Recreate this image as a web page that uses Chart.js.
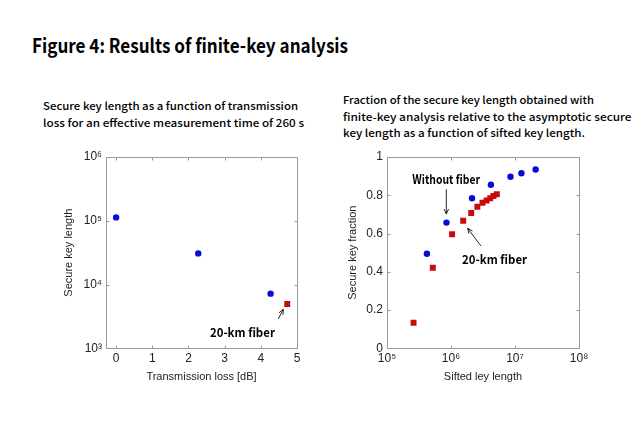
<!DOCTYPE html>
<html><head><meta charset="utf-8">
<script src="https://cdn.jsdelivr.net/npm/chart.js@4.4.1/dist/chart.umd.min.js"></script>
<style>
html,body{margin:0;padding:0;background:#fff;}
#wrap{position:relative;width:640px;height:443px;overflow:hidden;background:#fff}
canvas{position:absolute}
svg{position:absolute;left:0;top:0}
.t{font-family:"Noto Sans CJK JP","Noto Sans",sans-serif;fill:#000}
</style></head><body>
<div id="wrap">
<svg width="640" height="443">
  <text class="t" x="32" y="53.3" font-size="19.5" font-weight="bold" textLength="316" lengthAdjust="spacingAndGlyphs">Figure 4: Results of finite-key analysis</text>
  <text class="t" x="43" y="110" font-size="10.5" font-weight="500" textLength="255" lengthAdjust="spacingAndGlyphs">Secure key length as a function of transmission</text>
  <text class="t" x="43" y="126.7" font-size="10.5" font-weight="500" textLength="261" lengthAdjust="spacingAndGlyphs">loss for an effective measurement time of 260 s</text>
  <text class="t" x="343" y="104" font-size="10.5" font-weight="500" textLength="251" lengthAdjust="spacingAndGlyphs">Fraction of the secure key length obtained with</text>
  <text class="t" x="343" y="120.7" font-size="10.5" font-weight="500" textLength="288.5" lengthAdjust="spacingAndGlyphs">finite-key analysis relative to the asymptotic secure</text>
  <text class="t" x="343" y="137.3" font-size="10.5" font-weight="500" textLength="242" lengthAdjust="spacingAndGlyphs">key length as a function of sifted key length.</text>
</svg>
<canvas id="c1" width="320" height="260" style="left:0;top:140px;width:320px;height:260px"></canvas>
<canvas id="c2" width="320" height="260" style="left:320px;top:140px;width:320px;height:260px"></canvas>
</div>
<script>
// ---- Left panel data ----
const lossNoFiber = [0, 2.27, 4.27];
const keyNoFiber = [1.13e5, 3.08e4, 7.2e3];
const lossFiber = [4.73];
const keyFiber = [4.94e3];
const lossTicks = [0, 1, 2, 3, 4, 5];
const keyTicks = [1e3, 1e4, 1e5, 1e6];
const keyTickLabels = ['10³', '10⁴', '10⁵', '10⁶'];

// ---- Right panel data ----
const siftedNoFiber = [4.2e5, 8.5e5, 2.13e6, 4.2e6, 8.5e6, 1.26e7, 2.1e7];
const fracNoFiber = [0.494, 0.657, 0.784, 0.855, 0.897, 0.915, 0.935];
const siftedFiber = [2.6e5, 5.2e5, 1.04e6, 1.55e6, 2.07e6, 2.58e6, 3.1e6, 3.6e6, 4.1e6, 4.6e6, 5.2e6];
const fracFiber = [0.134, 0.421, 0.596, 0.667, 0.707, 0.74, 0.761, 0.773, 0.784, 0.796, 0.805];
const siftedTicks = [1e5, 1e6, 1e7, 1e8];
const siftedTickLabels = ['10⁵', '10⁶', '10⁷', '10⁸'];
const fracTicks = [0, 0.2, 0.4, 0.6, 0.8, 1];
const fracTickLabels = ['0', '0.2', '0.4', '0.6', '0.8', '1'];

const BLUE = '#0a0ad8';
const RED = '#c80a0a';
const TICK_FONT = {family: '"Liberation Sans", Arial, sans-serif', size: 12};
const TITLE_FONT = {family: '"Liberation Sans", Arial, sans-serif', size: 11};
const TXT = '#222';

const framePlugin = {
  id: 'frame',
  beforeDatasetsDraw(chart) {
    const {ctx, chartArea: a, scales: {x, y}} = chart;
    const L = Math.round(a.left) + 0.5, R = Math.round(a.right) + 0.5;
    const T = Math.round(a.top) + 0.5, B = Math.round(a.bottom) + 0.5;
    ctx.save();
    ctx.strokeStyle = '#9a9a9a';
    ctx.lineWidth = 1;
    ctx.beginPath();
    ctx.rect(L, T, R - L, B - T);
    x.ticks.forEach(t => {
      const px = Math.round(x.getPixelForValue(t.value)) + 0.5;
      ctx.moveTo(px, B); ctx.lineTo(px, B - 3);
      ctx.moveTo(px, T); ctx.lineTo(px, T + 3);
    });
    y.ticks.forEach(t => {
      const py = Math.round(y.getPixelForValue(t.value)) + 0.5;
      ctx.moveTo(L, py); ctx.lineTo(L + 3, py);
      ctx.moveTo(R, py); ctx.lineTo(R - 3, py);
    });
    ctx.stroke();
    ctx.restore();
  }
};

const notesPlugin = {
  id: 'notes',
  afterDatasetsDraw(chart, args, opts) {
    const {ctx, scales: {x, y}} = chart;
    ctx.save();
    (opts.labels || []).forEach(l => {
      ctx.font = 'bold 12.5px "Noto Sans CJK JP", "Noto Sans", sans-serif';
      ctx.fillStyle = '#000';
      ctx.textAlign = 'center';
      ctx.textBaseline = 'alphabetic';
      const m = ctx.measureText(l.text).width;
      const cx = x.getPixelForValue(l.x), by = y.getPixelForValue(l.y);
      ctx.save();
      ctx.translate(cx, by);
      ctx.scale(l.w / m, 1);
      ctx.fillText(l.text, 0, 0);
      ctx.restore();
    });
    (opts.arrows || []).forEach(a => {
      const x1 = x.getPixelForValue(a.x1), y1 = y.getPixelForValue(a.y1);
      const x2 = x.getPixelForValue(a.x2), y2 = y.getPixelForValue(a.y2);
      const ang = Math.atan2(y2 - y1, x2 - x1);
      ctx.strokeStyle = '#111';
      ctx.lineWidth = 0.9;
      ctx.beginPath();
      ctx.moveTo(x1, y1); ctx.lineTo(x2, y2);
      const h = 5.5, s = 0.42;
      ctx.moveTo(x2 - h * Math.cos(ang - s), y2 - h * Math.sin(ang - s));
      ctx.lineTo(x2, y2);
      ctx.lineTo(x2 - h * Math.cos(ang + s), y2 - h * Math.sin(ang + s));
      ctx.stroke();
    });
    ctx.restore();
  }
};

function axis(type, min, max, ticks, labels, titleText, isX, fitSize, pad) {
  return {
    type, min, max,
    afterBuildTicks: s => { s.ticks = ticks.map(v => ({value: v})); },
    afterFit: s => { if (isX) s.height = fitSize; else s.width = fitSize; },
    grid: {display: false, drawTicks: false},
    border: {display: false},
    ticks: {padding: pad, font: TICK_FONT, color: TXT, autoSkip: false, maxRotation: 0,
            callback: (v, i) => labels[i]},
    title: {display: true, text: titleText, font: TITLE_FONT, color: TXT, padding: 4}
  };
}

function pts(xs, ys) { return xs.map((v, i) => ({x: v, y: ys[i]})); }

Chart.register(framePlugin, notesPlugin);

new Chart(document.getElementById('c1'), {
  type: 'scatter',
  data: {datasets: [
    {data: pts(lossNoFiber, keyNoFiber), pointStyle: 'circle', pointRadius: 3.2, backgroundColor: BLUE, borderColor: BLUE, borderWidth: 0},
    {data: pts(lossFiber, keyFiber), pointStyle: 'rect', pointRadius: 4.2, backgroundColor: RED, borderColor: RED, borderWidth: 0}
  ]},
  options: {
    responsive: false, animation: false, devicePixelRatio: 1,
    layout: {padding: {left: 58, right: 23, top: 17, bottom: 12.7}},
    plugins: {legend: {display: false}, tooltip: {enabled: false},
      notes: {
        labels: [{text: '20-km fiber', x: 3.49, y: 1520, w: 65}],
        arrows: [{x1: 4.483, y1: 2880, x2: 4.621, y2: 4085}]
      }},
    scales: {
      x: axis('linear', -0.28, 5, lossTicks, lossTicks.map(String), 'Transmission loss [dB]', true, 39, 3),
      y: axis('logarithmic', 1e3, 1e6, keyTicks, keyTickLabels, 'Secure key length', false, 48, 4)
    }
  }
});

new Chart(document.getElementById('c2'), {
  type: 'scatter',
  data: {datasets: [
    {data: pts(siftedNoFiber, fracNoFiber), pointStyle: 'circle', pointRadius: 3.2, backgroundColor: BLUE, borderColor: BLUE, borderWidth: 0},
    {data: pts(siftedFiber, fracFiber), pointStyle: 'rect', pointRadius: 4.2, backgroundColor: RED, borderColor: RED, borderWidth: 0}
  ]},
  options: {
    responsive: false, animation: false, devicePixelRatio: 1,
    layout: {padding: {left: 22, right: 61, top: 17, bottom: 12.7}},
    plugins: {legend: {display: false}, tooltip: {enabled: false},
      notes: {
        labels: [{text: 'Without fiber', x: 8.41e5, y: 0.857, w: 67.7},
                 {text: '20-km fiber', x: 4.79e6, y: 0.439, w: 65}],
        arrows: [{x1: 8.45e5, y1: 0.831, x2: 8.45e5, y2: 0.702},
                 {x1: 2.94e6, y1: 0.535, x2: 1.82e6, y2: 0.627}]
      }},
    scales: {
      x: axis('logarithmic', 1e5, 1e8, siftedTicks, siftedTickLabels, 'Sifted ley length', true, 39, 3),
      y: axis('linear', 0, 1, fracTicks, fracTickLabels, 'Secure key fraction', false, 45, 4)
    }
  }
});
</script>
</body></html>
